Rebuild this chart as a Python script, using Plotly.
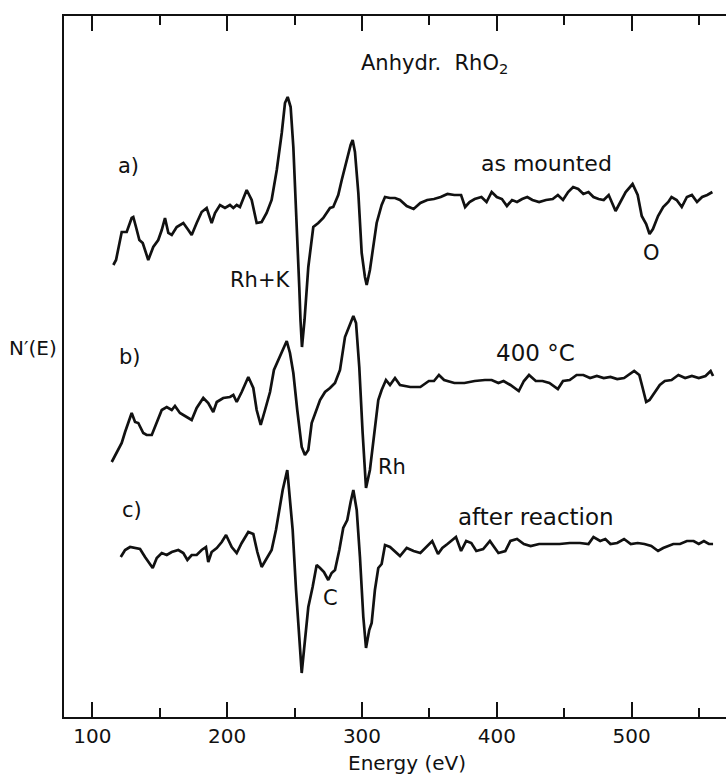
import plotly.graph_objects as go

# ---- data (energy in eV, N'(E) in arbitrary units) ----
energy_a = [115.6, 117.6, 121.8, 125.5, 129.2, 130.4, 132.4, 134.9, 137.4, 141.5, 145.2, 148.9, 151.5, 153.9,
            156.4, 158.9, 162.6, 167.5, 171.2, 173.7, 177.4, 181.1, 184.8, 188.5, 191.0, 194.7, 198.4, 202.1,
            204.6, 207.1, 209.5, 214.5, 218.2, 221.9, 225.6, 229.3, 233.0, 236.8, 240.5, 242.9, 244.9, 247.1,
            249.1, 251.6, 253.5, 254.4, 255.5, 257.4, 260.2, 263.9, 267.6, 271.3, 276.3, 278.7, 282.4, 285.0,
            287.4, 289.8, 291.6, 293.1, 294.8, 297.3, 299.8, 302.2, 303.5, 305.9, 308.4, 310.9, 314.6, 317.1,
            320.8, 324.5, 328.2, 333.2, 338.3, 343.3, 348.4, 353.4, 358.4, 363.4, 368.5, 373.5, 376.5, 379.8,
            383.6, 388.6, 392.4, 396.2, 400.0, 403.8, 407.5, 411.3, 415.0, 418.8, 422.6, 426.4, 431.4, 436.5,
            441.5, 445.3, 449.1, 452.9, 456.6, 460.4, 464.2, 468.0, 471.7, 475.5, 479.3, 483.0, 488.1, 491.9,
            495.6, 500.7, 504.5, 507.5, 510.8, 513.3, 515.8, 519.6, 523.4, 527.2, 529.6, 533.4, 537.2, 541.0,
            544.7, 548.5, 552.3, 556.1, 559.9]
signal_a = [45.2, 45.7, 48.5, 48.5, 49.9, 50.0, 49.0, 47.7, 47.4, 45.7, 47.0, 47.7, 48.7, 49.9,
            48.4, 48.2, 49.0, 49.4, 48.7, 48.2, 49.4, 50.5, 50.9, 49.4, 50.4, 51.2, 50.9, 51.2,
            50.9, 51.2, 51.0, 52.7, 51.7, 49.4, 49.5, 50.4, 51.7, 54.7, 58.4, 61.4, 62.0, 61.0,
            57.0, 49.7, 43.0, 39.7, 37.0, 39.7, 45.0, 49.0, 49.4, 49.9, 50.9, 51.0, 52.2, 53.7,
            55.0, 56.5, 57.2, 57.7, 56.5, 52.4, 46.4, 44.0, 43.2, 44.7, 47.0, 49.4, 51.2, 52.0,
            51.9, 51.9, 51.7, 51.1, 50.8, 51.4, 51.7, 51.8, 52.0, 52.3, 52.2, 52.2, 51.0, 51.5,
            51.8, 52.0, 51.5, 52.5, 52.0, 51.8, 51.1, 51.7, 51.5, 51.8, 52.0, 51.7, 51.5, 51.7,
            51.8, 52.2, 51.7, 52.5, 53.0, 52.8, 52.3, 52.5, 52.0, 51.8, 51.7, 52.2, 50.6, 51.5,
            52.5, 53.3, 52.2, 50.1, 49.3, 48.3, 48.8, 50.1, 51.0, 51.5, 52.0, 51.7, 51.0, 52.0,
            52.2, 51.5, 52.0, 52.2, 52.5]

energy_b = [114.4, 118.1, 121.8, 124.3, 126.7, 129.2, 131.7, 134.1, 137.8, 140.3, 144.1, 147.8, 151.5, 155.2,
            158.9, 161.3, 165.0, 170.0, 173.7, 177.4, 182.3, 186.0, 189.7, 192.3, 197.1, 202.1, 204.6, 207.1,
            210.8, 215.7, 219.4, 221.9, 224.9, 228.1, 231.8, 234.7, 240.5, 244.2, 246.6, 249.1, 252.0, 255.3,
            257.7, 260.2, 262.7, 265.2, 268.9, 272.6, 276.3, 280.0, 283.7, 287.4, 290.6, 293.6, 295.6, 298.0,
            300.5, 303.0, 305.9, 308.4, 312.1, 314.6, 317.8, 320.8, 324.5, 328.2, 335.8, 343.3, 349.6, 353.4,
            357.1, 360.9, 368.5, 376.0, 383.6, 391.2, 396.2, 401.2, 405.0, 410.1, 416.3, 420.1, 423.9, 428.9,
            433.9, 439.0, 445.3, 449.1, 454.1, 459.2, 464.2, 469.2, 474.2, 479.3, 484.3, 489.3, 494.4, 501.9,
            505.7, 508.2, 510.8, 513.3, 517.1, 520.9, 524.6, 529.6, 534.7, 539.7, 544.7, 549.8, 554.8, 558.6,
            560.4]
signal_b = [25.5, 26.4, 27.4, 28.5, 29.5, 30.4, 29.5, 29.4, 28.4, 28.2, 28.2, 29.4, 30.7, 31.0,
            30.7, 31.1, 30.4, 30.0, 29.7, 30.9, 31.9, 31.4, 30.5, 31.5, 31.9, 32.0, 32.2, 31.5,
            32.5, 34.0, 32.9, 30.7, 29.2, 30.7, 32.5, 34.7, 36.4, 37.6, 36.4, 34.4, 30.7, 27.0,
            26.2, 26.7, 29.4, 30.4, 31.7, 32.5, 32.9, 33.4, 34.7, 38.0, 39.0, 40.1, 39.4, 35.0,
            28.4, 22.9, 24.7, 27.7, 31.7, 32.7, 33.7, 33.2, 33.9, 33.2, 33.0, 33.0, 33.6, 33.6,
            34.2, 33.7, 33.4, 33.4, 33.6, 33.7, 33.7, 33.4, 33.6, 33.2, 32.6, 33.6, 34.2, 33.6,
            33.6, 33.4, 32.8, 33.6, 33.7, 34.2, 34.2, 33.9, 34.1, 33.9, 34.0, 33.8, 33.9, 34.6,
            34.2, 32.9, 31.5, 31.7, 32.4, 33.2, 33.6, 33.7, 34.2, 33.9, 34.1, 33.9, 34.1, 34.6,
            34.1]

energy_c = [121.1, 124.3, 128.0, 131.7, 135.4, 139.1, 142.8, 144.8, 147.8, 151.5, 155.2, 158.9, 163.8, 167.5,
            170.5, 173.7, 177.4, 181.1, 184.3, 186.0, 188.5, 192.3, 196.0, 199.2, 203.4, 207.1, 210.8, 215.7,
            219.4, 222.4, 225.6, 229.3, 233.0, 236.2, 239.2, 241.2, 244.6, 246.6, 248.6, 251.1, 253.3, 255.3,
            257.0, 260.2, 263.4, 266.4, 268.9, 271.8, 275.0, 277.5, 280.0, 283.2, 286.1, 289.1, 291.6, 293.6,
            296.1, 298.5, 301.0, 303.0, 305.4, 307.2, 309.6, 312.1, 314.6, 317.1, 320.8, 324.5, 328.2, 333.2,
            338.3, 343.3, 347.1, 352.1, 356.4, 359.6, 363.4, 369.7, 373.5, 377.3, 381.1, 384.8, 389.9, 394.9,
            397.5, 401.2, 406.3, 410.1, 415.0, 420.1, 425.1, 431.4, 439.0, 446.6, 454.1, 461.7, 468.0, 471.7,
            476.7, 480.5, 484.3, 489.3, 494.4, 499.4, 504.5, 509.5, 514.6, 519.6, 523.4, 527.2, 530.9, 535.9,
            541.0, 546.0, 549.8, 553.6, 557.3, 560.4]
signal_c = [16.0, 16.7, 17.0, 16.9, 16.8, 16.0, 15.2, 14.9, 15.9, 16.4, 16.2, 16.5, 16.7, 16.4,
            15.7, 16.2, 16.2, 16.7, 17.0, 15.5, 16.5, 16.9, 17.5, 18.2, 17.0, 16.4, 17.4, 18.5,
            18.3, 16.5, 15.0, 15.9, 16.7, 18.7, 21.0, 22.7, 24.7, 21.7, 18.7, 12.7, 7.7, 4.4,
            6.7, 11.0, 13.0, 15.2, 14.9, 14.5, 13.7, 14.4, 14.7, 16.7, 18.9, 19.7, 21.5, 22.7,
            20.7, 16.0, 10.0, 6.9, 8.7, 9.4, 12.7, 14.9, 15.3, 17.2, 17.0, 16.5, 16.1, 16.9,
            16.6, 16.4, 16.9, 17.6, 16.3, 16.9, 17.3, 18.0, 16.6, 17.6, 17.4, 16.6, 16.8, 17.6,
            17.1, 16.4, 16.6, 17.6, 17.8, 17.3, 17.1, 17.3, 17.3, 17.3, 17.4, 17.4, 17.3, 18.0,
            17.6, 17.8, 17.3, 17.4, 17.8, 17.3, 17.4, 17.3, 17.1, 16.6, 16.9, 17.1, 17.3, 17.3,
            17.6, 17.6, 17.3, 17.6, 17.3, 17.3]

major_ticks = [100, 200, 300, 400, 500]
major_labels = ["100", "200", "300", "400", "500"]

# labels: (text, energy, N'(E), font size)
curve_labels = [
    ("a)", 126.7, 55.1, 21),
    ("Rh+K", 224.4, 43.7, 21),
    ("as mounted", 436.5, 55.4, 22),
    ("O", 515.1, 46.4, 21),
    ("b)", 128.0, 36.0, 21),
    ("Rh", 322.0, 25.0, 21),
    ("400 °C", 428.9, 36.4, 23),
    ("c)", 129.2, 20.7, 21),
    ("C", 276.3, 11.9, 21),
    ("after reaction", 428.9, 20.0, 23),
    ("Anhydr.  RhO<sub>2</sub>", 354.1, 65.3, 21),
]

FONT = "DejaVu Sans"
INK = "#111111"

fig = go.Figure()
for xs, ys in [(energy_a, signal_a), (energy_b, signal_b), (energy_c, signal_c)]:
    fig.add_trace(go.Scatter(x=xs, y=ys, mode="lines",
                             line=dict(color=INK, width=2.7), showlegend=False,
                             hoverinfo="skip"))

for text, ex, ey, fs in curve_labels:
    fig.add_annotation(x=ex, y=ey, text=text, showarrow=False,
                       font=dict(family=FONT, size=fs, color=INK),
                       xanchor="center", yanchor="middle")

fig.add_annotation(x=333.4, y=-0.066, xref="x", yref="paper", text="Energy (eV)",
                   showarrow=False, font=dict(family=FONT, size=20, color=INK),
                   xanchor="center", yanchor="middle")
fig.add_annotation(x=-0.047, y=0.526, xref="paper", yref="paper", text="N′(E)",
                   showarrow=False, font=dict(family=FONT, size=20, color=INK),
                   xanchor="center", yanchor="middle")

fig.update_layout(
    width=726, height=775,
    margin=dict(l=64, r=0, t=16, b=58),
    paper_bgcolor="white", plot_bgcolor="white",
    font=dict(family=FONT, color=INK),
    xaxis=dict(range=[79.0, 570.0], tickvals=major_ticks, ticktext=major_labels,
               ticks="inside", ticklen=15, tickwidth=2, tickcolor=INK,
               showline=True, linewidth=2, linecolor=INK, mirror="allticks",
               showgrid=False, zeroline=False,
               tickfont=dict(family=FONT, size=20, color=INK),
               minor=dict(dtick=50, tick0=50, ticks="inside", ticklen=9,
                          tickwidth=2, tickcolor=INK, showgrid=False)),
    yaxis=dict(range=[0, 70.1], showticklabels=False, ticks="",
               showline=True, linewidth=2, linecolor=INK, mirror=False,
               showgrid=False, zeroline=False),
)

fig.write_html("out.html")
